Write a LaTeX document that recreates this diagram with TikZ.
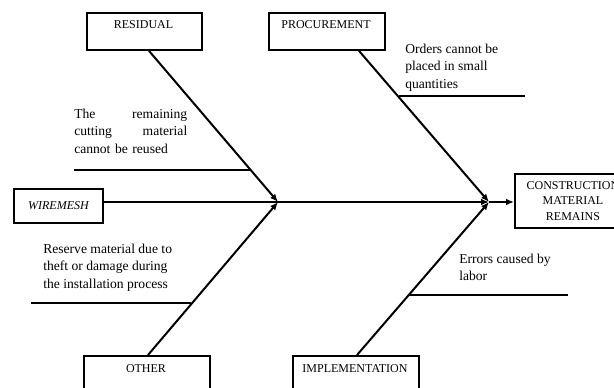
\documentclass[tikz,border=0pt]{standalone}
\usepackage{fontspec}
\setmainfont{Liberation Serif}
\usetikzlibrary{arrows.meta}

\begin{document}
\begin{tikzpicture}[x=0.75pt, y=-0.75pt,
  txt/.style={font=\fontsize{10.2}{13.1}\selectfont, inner sep=0pt},
  lbl/.style={font=\fontsize{9}{11}\selectfont, inner sep=0pt},
  catbox/.style={draw, line width=1.4pt, anchor=north west, inner sep=0pt},
  bone/.style={line width=1.5pt},
  arr/.style={line width=1.5pt, -{Latex[length=6pt,width=5pt]}},
]
\clip (0,0) rectangle (614,387);
\fill[white] (0,0) rectangle (614,387);

% category boxes
\node[catbox, minimum width=115*0.75pt, minimum height=37*0.75pt] (residual) at (86,12) {};
\node[catbox, minimum width=116*0.75pt, minimum height=37*0.75pt] (procure) at (268,12) {};
\node[catbox, minimum width=126*0.75pt, minimum height=45*0.75pt] (other) at (83,355) {};
\node[catbox, minimum width=126*0.75pt, minimum height=45*0.75pt] (implement) at (292,355) {};

\node[lbl] at (143.5,25) {RESIDUAL};
\node[lbl] at (326,25) {PROCUREMENT};
\node[lbl] at (146,369) {OTHER};
\node[lbl] at (355,369) {IMPLEMENTATION};

% head and tail
\node[catbox, minimum width=89*0.75pt, minimum height=34*0.75pt, lbl, font=\fontsize{9}{11}\selectfont\itshape] (wire) at (13,188) {WIREMESH};
\node[catbox, minimum width=116*0.75pt, minimum height=54*0.75pt, lbl, align=center, font=\fontsize{9}{11.8}\selectfont] (result) at (514,173) {CONSTRUCTION\\MATERIAL\\REMAINS};

% junctions on the spine
\coordinate (j1) at (278,202);
\coordinate (j2) at (489,202);

% spine
\draw[arr] (wire.east |- j1) -- (j2);
\draw[arr] (j2) -- (result.west |- j2);

% main bones
\draw[arr] (residual.south -| 149,0) -- (j1);
\draw[arr] (procure.south -| 359,0) -- (j2);
\draw[arr] (other.north -| 148,0) -- (j1);
\draw[arr] (implement.north -| 357,0) -- (j2);

% cause lines
\coordinate (c1a) at (74,170);  \coordinate (c1b) at (251,170);
\coordinate (c2a) at (399,96);  \coordinate (c2b) at (525,96);
\coordinate (c3a) at (31,303);  \coordinate (c3b) at (191,303);
\coordinate (c4a) at (409,295); \coordinate (c4b) at (568,295);
\draw[bone] (c1a) -- (c1b);
\draw[bone] (c2a) -- (c2b);
\draw[bone] (c3a) -- (c3b);
\draw[bone] (c4a) -- (c4b);

% cause texts
\node[txt, anchor=north west, text width=113*0.75pt, align=left] at (74,108.5)
  {The\hfill remaining\\cutting\hfill material\\cannot be reused};
\node[txt, anchor=north west, align=left] at (405,43.5)
  {Orders cannot be\\placed in small\\quantities};
\node[txt, anchor=north west, align=left] at (43,243.5)
  {Reserve material due to\\theft or damage during\\the installation process};
\node[txt, anchor=north west, align=left] at (459,253.5)
  {Errors caused by\\labor};
\end{tikzpicture}
\end{document}
